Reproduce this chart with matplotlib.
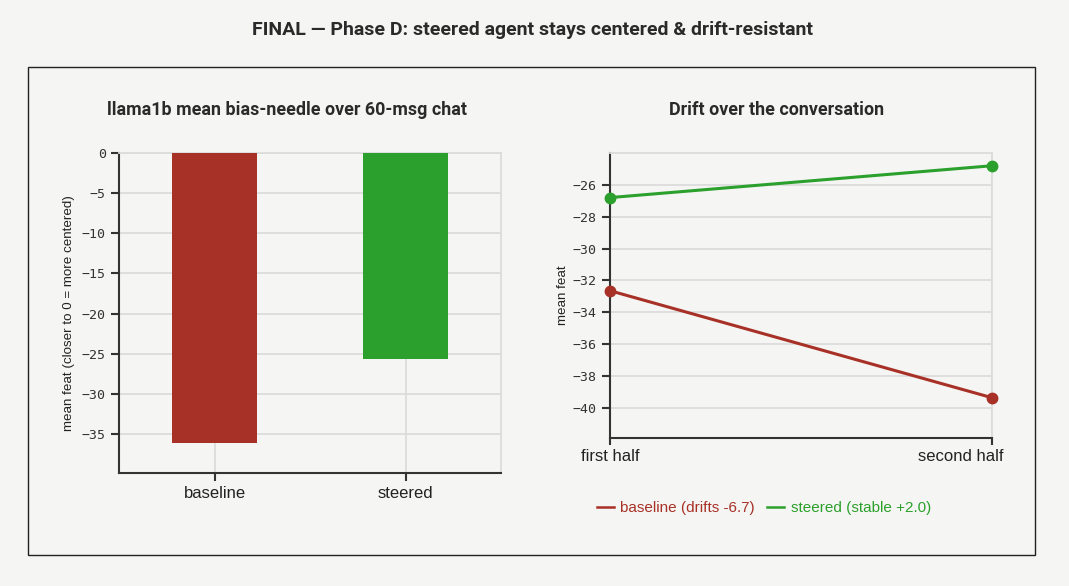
import matplotlib.pyplot as plt
from matplotlib.patches import Rectangle
from matplotlib.transforms import offset_copy

# data
bar_labels = ['baseline', 'steered']
bar_values = [-36.1, -25.7]
half_labels = ['first half', 'second half']
baseline_drift = [-32.65, -39.37]
steered_drift = [-26.8, -24.8]

RED = '#a83127'
GREEN = '#2ca02c'
BG = '#f5f5f3'
GRID = '#dcdcdc'
DARK = '#333333'
SANS = 'Liberation Sans'

fig = plt.figure(figsize=(10.69, 5.86), dpi=100, facecolor=BG)

# outer frame
fig.patches.append(Rectangle((28 / 1069, 1 - 555 / 586), (1035 - 28) / 1069, (555 - 67) / 586,
                             transform=fig.transFigure, fill=False, edgecolor='#222222', linewidth=1))

fig.text(532 / 1069, 1 - 30 / 586, 'FINAL — Phase D: steered agent stays centered & drift-resistant',
         ha='center', va='center', fontsize=14, fontweight='bold', family='Roboto', color='#2a2a2a')


def style_axes(ax):
    ax.set_facecolor(BG)
    ax.grid(True, color=GRID, linewidth=1.3)
    ax.set_axisbelow(True)
    for side in ['top', 'right']:
        ax.spines[side].set_color(GRID)
        ax.spines[side].set_linewidth(1.3)
    for side in ['left', 'bottom']:
        ax.spines[side].set_color(DARK)
        ax.spines[side].set_linewidth(1.5)
    ax.tick_params(axis='both', direction='out', length=6, width=1.5, color=DARK)
    ax.tick_params(axis='x', pad=3)
    for lbl in ax.get_yticklabels():
        lbl.set_family('DejaVu Sans Mono')
        lbl.set_fontsize(9.5)
        lbl.set_color(DARK)
    for lbl in ax.get_xticklabels():
        lbl.set_family(SANS)
        lbl.set_fontsize(12)
        lbl.set_color('#222222')


# left: bars
ax1 = fig.add_axes([119 / 1069, 1 - 473 / 586, 382 / 1069, 320 / 586])
x = list(range(len(bar_labels)))
ax1.bar(x, bar_values, width=0.44, color=[RED, GREEN], zorder=3)
ax1.set_xlim(-0.5, 1.5)
ax1.set_ylim(-39.85, 0)
ax1.set_xticks(x)
ax1.set_xticklabels(bar_labels)
ax1.set_yticks([0, -5, -10, -15, -20, -25, -30, -35])
ax1.set_ylabel('mean feat (closer to 0 = more centered)', family=SANS, fontsize=9.6, color='#222222', labelpad=5)
style_axes(ax1)
fig.text(287 / 1069, 1 - 110 / 586, 'llama1b mean bias-needle over 60-msg chat',
         ha='center', va='center', fontsize=12.9, fontweight='bold', family='Roboto', color='#2a2a2a')

# right: drift lines
ax2 = fig.add_axes([610 / 1069, 1 - 438 / 586, 382 / 1069, 285 / 586])
xs = list(range(len(half_labels)))
ax2.plot(xs, baseline_drift, color=RED, linewidth=2.2, marker='o', markersize=7.5, zorder=3,
         label='baseline (drifts -6.7)', clip_on=False)
ax2.plot(xs, steered_drift, color=GREEN, linewidth=2.2, marker='o', markersize=7.5, zorder=3,
         label='steered (stable +2.0)', clip_on=False)
ax2.set_xlim(0, 1)
ax2.set_ylim(-41.9, -24.0)
ax2.set_xticks(xs)
ax2.set_xticklabels(half_labels)
ax2.set_yticks([-26, -28, -30, -32, -34, -36, -38, -40])
ax2.set_ylabel('mean feat', family=SANS, fontsize=9.6, color='#222222', labelpad=3)
style_axes(ax2)
ax2.tick_params(axis='x', length=5)
# keep the last category label inside the plot width
last = ax2.get_xticklabels()[-1]
last.set_transform(offset_copy(last.get_transform(), fig=fig, x=-31, y=0, units='dots'))
fig.text(777 / 1069, 1 - 110 / 586, 'Drift over the conversation',
         ha='center', va='center', fontsize=12.9, fontweight='bold', family='Roboto', color='#2a2a2a')

leg = fig.legend(handles=ax2.get_lines(), loc='center', bbox_to_anchor=(764 / 1069, 1 - 508 / 586),
                 ncol=2, frameon=False, handlelength=1.1, handletextpad=0.45, columnspacing=0.8,
                 prop={'family': SANS, 'size': 11})
for txt, line in zip(leg.get_texts(), ax2.get_lines()):
    txt.set_color(line.get_color())
for h in leg.legend_handles:
    h.set_marker('')
    h.set_linewidth(1.8)

fig.savefig('out.png', dpi=100, facecolor=BG)
